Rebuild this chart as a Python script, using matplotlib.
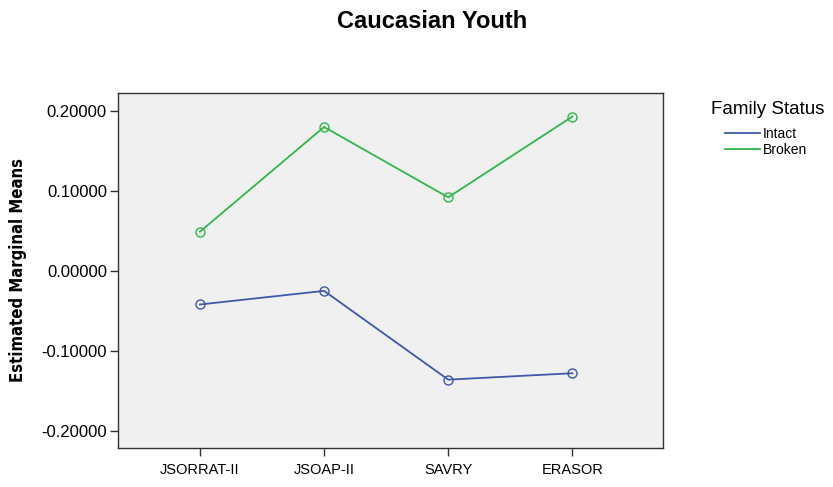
import matplotlib
matplotlib.use("Agg")
import matplotlib.pyplot as plt
from matplotlib.lines import Line2D

categories = ["JSORRAT-II", "JSOAP-II", "SAVRY", "ERASOR"]
intact = [-0.042, -0.025, -0.136, -0.128]
broken = [0.049, 0.180, 0.092, 0.193]
yticks = [-0.2, -0.1, 0.0, 0.1, 0.2]

plt.rcParams['font.family'] = ['Liberation Sans', 'DejaVu Sans']

W, H = 833, 487
fig = plt.figure(figsize=(W/100, H/100), dpi=100)
ax = fig.add_axes([118/W, 1-448/H, (663-118)/W, (448-93)/H])
ax.set_facecolor('#f0f0f0')

blue = '#3e58ac'
green = '#2eb848'
x = list(range(len(categories)))
ax.plot(x, intact, color=blue, lw=1.3, marker='o', ms=6.5, mfc='none', mec=blue, mew=1.0)
ax.plot(x, broken, color=green, lw=1.3, marker='o', ms=6.5, mfc='none', mec=green, mew=1.0)

ax.set_xlim(-0.66, 3.73)
ax.set_ylim(-0.2215, 0.2225)
ax.set_yticks(yticks)
ax.set_yticklabels([f"{v:.5f}" for v in yticks], fontsize=12)
ax.set_xticks(x)
ax.set_xticklabels(categories, fontsize=10.5)
ax.tick_params(direction='out', length=6, width=1, color='#333333', pad=2)
ax.tick_params(axis='x', pad=5)
for s in ax.spines.values():
    s.set_color('#333333')
    s.set_linewidth(1)

ax.set_ylabel("Estimated Marginal Means", family='DejaVu Sans', stretch='condensed',
              fontweight='bold', fontsize=12, labelpad=10)

fig.text(432/W, 1-22/H, "Caucasian Youth", ha='center', va='center', fontsize=17, fontweight='bold')

fig.text(768/W, 1-110/H, "Family Status", ha='center', va='center', fontsize=13.5)
handles = [Line2D([0], [0], color=blue, lw=1.3), Line2D([0], [0], color=green, lw=1.3)]
leg = fig.legend(handles, ["Intact", "Broken"],
                 loc='upper left', bbox_to_anchor=(725/W, 1-127/H), frameon=False,
                 fontsize=10, handlelength=2.5, handletextpad=0.25,
                 labelspacing=0.15, borderpad=0, borderaxespad=0)

fig.savefig("out.png", dpi=100)
